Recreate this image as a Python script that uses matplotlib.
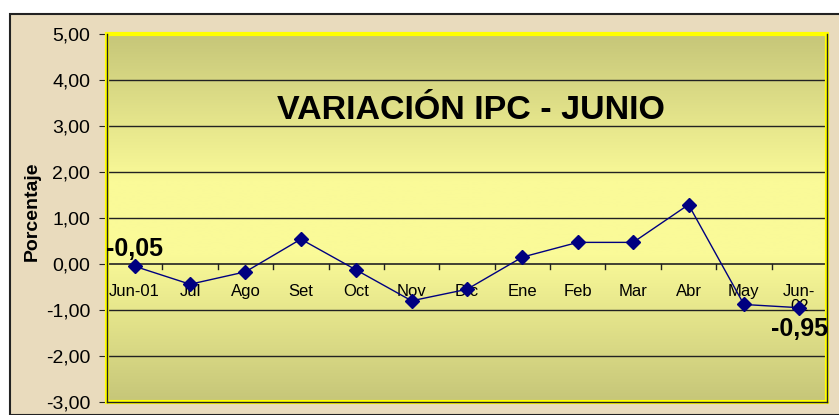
import numpy as np
import matplotlib
matplotlib.use("Agg")
import matplotlib.pyplot as plt
from matplotlib.colors import LinearSegmentedColormap
from matplotlib.patches import Rectangle

plt.rcParams['font.family'] = ['Liberation Sans', 'DejaVu Sans']

# data
meses = ["Jun-01", "Jul", "Ago", "Set", "Oct", "Nov", "Dic",
         "Ene", "Feb", "Mar", "Abr", "May", "Jun-\n02"]
variacion = [-0.05, -0.44, -0.17, 0.54, -0.13, -0.80, -0.55,
             0.15, 0.47, 0.47, 1.29, -0.88, -0.95]
y_ticks = [5, 4, 3, 2, 1, 0, -1, -2, -3]
etiquetas = {0: "-0,05", 12: "-0,95"}

W, H = 839, 415
fig = plt.figure(figsize=(W / 100, H / 100), dpi=100)
fig.patch.set_facecolor("white")

# outer chart area (beige)
fig.patches.append(Rectangle((10 / W, 0), 1, 1 - 14 / H, transform=fig.transFigure,
                             facecolor="#e9dbbd", edgecolor="#222222", linewidth=1.5,
                             zorder=-1))

# plot area
x0, x1, yt, yb = 107, 827, 34, 402
ax = fig.add_axes([x0 / W, 1 - yb / H, (x1 - x0) / W, (yb - yt) / H])
ax.set_facecolor("none")

n = len(meses)

# vertical gradient background
cmap = LinearSegmentedColormap.from_list(
    "g", [(0.0, "#c6c679"), (0.4, "#fafa98"), (0.6, "#fafa98"), (1.0, "#c6c679")])
grad = np.linspace(0, 1, 256).reshape(-1, 1)
ax.imshow(grad, extent=[-0.5, n - 0.5, -3, 5], aspect="auto", cmap=cmap, zorder=0)
ax.set_xlim(-0.5, n - 0.5)
ax.set_ylim(-3, 5)

# yellow frame around plot area
ax.add_patch(Rectangle((0, 0), 1, 1, transform=ax.transAxes, fill=False,
                       edgecolor="#ffff00", linewidth=3, clip_on=False, zorder=5))

for v in y_ticks:
    if v not in (5, -3, 0):
        ax.axhline(v, color="#222222", linewidth=1, zorder=1)
ax.axhline(0, color="#222222", linewidth=1.2, zorder=2)

ax.spines["top"].set_visible(False)
for s in ["left", "right", "bottom"]:
    ax.spines[s].set_color("#222222")
    ax.spines[s].set_linewidth(1)
    ax.spines[s].set_zorder(6)

ax.set_yticks(y_ticks)
ax.set_yticklabels([("%.2f" % v).replace(".", ",") for v in y_ticks], fontsize=14)
ax.tick_params(axis="y", direction="out", length=6, color="#222222", pad=6)

# category axis crosses at 0
ax.set_xticks([])
for i in range(n + 1):
    ax.plot([i - 0.5, i - 0.5], [0, -0.11], color="#222222", linewidth=1, zorder=2)
for i, m in enumerate(meses):
    ax.text(i, -0.44, m, ha="center", va="top", fontsize=12, linespacing=0.95, zorder=3)

ax.plot(range(n), variacion, color="#000080", linewidth=1, marker="D",
        markersize=7, markerfacecolor="#000080", markeredgecolor="#000080", zorder=4)

ax.text(0.0, variacion[0] + 0.12, etiquetas[0], ha="center", va="bottom",
        fontsize=18, fontweight="bold", zorder=7)
ax.text(12.0, variacion[12] - 0.2, etiquetas[12], ha="center", va="top",
        fontsize=18, fontweight="bold", zorder=7)

ax.text(6.07, 3.33, "VARIACIÓN IPC - JUNIO", ha="center", va="center",
        fontsize=24.5, fontweight="bold", zorder=7)

fig.text(32 / W, 1 - 211 / H, "Porcentaje", rotation=90, ha="center", va="center",
         fontsize=14, fontweight="bold")

fig.savefig("out.png", dpi=100)
